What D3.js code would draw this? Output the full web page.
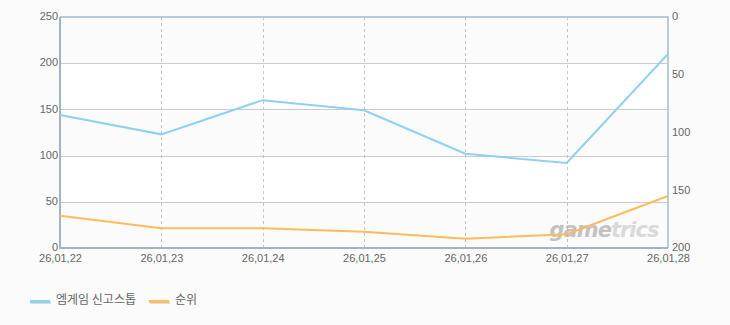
<!DOCTYPE html>
<html>
<head>
<meta charset="utf-8">
<title>엠게임 신고스톱 순위</title>
<script src="https://d3js.org/d3.v7.min.js"></script>
<style>
  body { margin: 0; background: #fbfbfb; }
  svg text { font-family: "Liberation Sans", Arial, sans-serif; fill: #666; }
  .legend text { font-family: "Noto Sans CJK KR", sans-serif; }
</style>
</head>
<body>
<svg id="chart"></svg>
<script>
// data
const dates = ["26,01,22", "26,01,23", "26,01,24", "26,01,25", "26,01,26", "26,01,27", "26,01,28"];
const users = [144, 123, 160, 149, 102, 92, 210];   // left axis
const rank = [172, 183, 183, 186, 192, 188, 155];   // right axis (reversed)
const leftTicks = [0, 50, 100, 150, 200, 250];
const rightTicks = [0, 50, 100, 150, 200];
const seriesNames = ["엠게임 신고스톱", "순위"];

const width = 730, height = 325;
const m = {left: 60, right: 62, top: 17, bottom: 77};
const svg = d3.select("#chart").attr("width", width).attr("height", height);

const x = d3.scalePoint().domain(dates).range([m.left, width - m.right]);
const yL = d3.scaleLinear().domain([0, 250]).range([height - m.bottom, m.top]);
const yR = d3.scaleLinear().domain([0, 200]).range([m.top, height - m.bottom]);

// alternating bands
const bands = d3.range(0, 250, 50);
svg.append("g").selectAll("rect").data(bands).join("rect")
  .attr("x", m.left).attr("width", width - m.right - m.left)
  .attr("y", d => yL(d + 50)).attr("height", d => yL(d) - yL(d + 50))
  .attr("fill", (d, i) => i % 2 ? "#ffffff" : "#fbfbfb");

// horizontal grid
svg.append("g").selectAll("line").data(leftTicks.slice(1, -1)).join("line")
  .attr("x1", m.left).attr("x2", width - m.right)
  .attr("y1", d => Math.round(yL(d)) + 0.5).attr("y2", d => Math.round(yL(d)) + 0.5)
  .attr("stroke", "#cccccc");

// vertical dashed grid
svg.append("g").selectAll("line").data(dates.slice(1, -1)).join("line")
  .attr("x1", d => Math.round(x(d)) + 0.5).attr("x2", d => Math.round(x(d)) + 0.5)
  .attr("y1", m.top).attr("y2", height - m.bottom)
  .attr("stroke", "#c4c4c4").attr("stroke-dasharray", "3,3");

// watermark
const wm = svg.append("text")
  .attr("x", 604).attr("y", 237)
  .attr("text-anchor", "middle")
  .style("font-family", "'DejaVu Sans', sans-serif")
  .style("font-size", "21px").style("font-style", "italic").style("font-weight", "bold")
  .style("letter-spacing", "-1px").attr("opacity", 0.5);
wm.append("tspan").text("game").style("fill", "#8a8a8a");
wm.append("tspan").text("trics").style("fill", "#b8b8b8");

// frame
svg.append("path")
  .attr("d", `M${m.left},${m.top}H${width - m.right}V${height - m.bottom}`)
  .attr("fill", "none").attr("stroke", "#b9cadb").attr("stroke-width", 2);
svg.append("path")
  .attr("d", `M${m.left},${m.top}V${height - m.bottom}H${width - m.right}`)
  .attr("fill", "none").attr("stroke", "#a3b3c6").attr("stroke-width", 2);

// axes
const axL = svg.append("g").attr("transform", `translate(${m.left - 2},0)`)
  .call(d3.axisLeft(yL).tickValues(leftTicks).tickSize(0).tickPadding(0));
const axR = svg.append("g").attr("transform", `translate(${width - m.right + 4},0)`)
  .call(d3.axisRight(yR).tickValues(rightTicks).tickSize(0).tickPadding(0));
const axB = svg.append("g").attr("transform", `translate(0,${height - m.bottom + 6})`)
  .call(d3.axisBottom(x).tickSize(0).tickPadding(0));
[axL, axR, axB].forEach(a => {
  a.select(".domain").remove();
  a.selectAll("text").style("font-size", "11px").style("fill", "#666")
    .style("font-family", "'Liberation Sans', Arial, sans-serif");
});
axL.selectAll("text").attr("dy", "0.25em");
axR.selectAll("text").attr("dy", "0.25em");
axB.selectAll("text").attr("dy", "0.71em");

// lines
const lineL = d3.line().x((d, i) => x(dates[i])).y(d => yL(d));
const lineR = d3.line().x((d, i) => x(dates[i])).y(d => yR(d));
svg.append("path").datum(users).attr("d", lineL)
  .attr("fill", "none").attr("stroke", "#8fd1f0").attr("stroke-width", 2);
svg.append("path").datum(rank).attr("d", lineR)
  .attr("fill", "none").attr("stroke", "#fbbc5e").attr("stroke-width", 2);

// legend
const legend = svg.append("g").attr("class", "legend");
const items = [
  {name: seriesNames[0], color: "#8fd1f0", x: 30},
  {name: seriesNames[1], color: "#fbbc5e", x: 149}
];
items.forEach(it => {
  legend.append("rect").attr("x", it.x + 1).attr("y", 301).attr("width", 20).attr("height", 3).attr("fill", "#dddddd");
  legend.append("rect").attr("x", it.x).attr("y", 300).attr("width", 20).attr("height", 3).attr("fill", it.color);
  legend.append("text").attr("x", it.x + 26).attr("y", 304)
    .style("font-size", "12px").style("fill", "#666").text(it.name);
});
</script>
</body>
</html>
